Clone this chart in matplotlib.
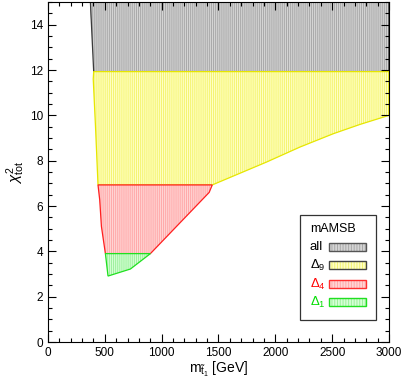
import matplotlib
matplotlib.use("Agg")
import matplotlib.pyplot as plt
from matplotlib.patches import Polygon, Rectangle
from matplotlib.ticker import MultipleLocator

plt.rcParams['font.family'] = ['Liberation Sans', 'DejaVu Sans']
plt.rcParams['mathtext.fontset'] = 'custom'
plt.rcParams['mathtext.rm'] = 'Liberation Sans'
plt.rcParams['mathtext.it'] = 'Liberation Sans:italic'
plt.rcParams['hatch.linewidth'] = 0.7

# region boundaries (m_stop [GeV], chi2_tot)
all_x = [373, 3000, 3000, 402]
all_y = [15.0, 15.0, 11.93, 11.93]

d9_x = [402, 3000, 3000, 2745, 2510, 2216, 1923, 1445, 440, 418, 398]
d9_y = [11.93, 11.93, 10.0, 9.6, 9.19, 8.6, 7.94, 6.93, 6.93, 9.5, 11.6]

d4_x = [440, 1445, 1418, 901, 505, 470, 455]
d4_y = [6.93, 6.93, 6.6, 3.9, 3.9, 5.1, 6.27]

d1_x = [505, 901, 725, 528]
d1_y = [3.9, 3.9, 3.22, 2.91]

labels = ["all", r"$\Delta_9$", r"$\Delta_4$", r"$\Delta_1$"]
xs_list = [all_x, d9_x, d4_x, d1_x]
ys_list = [all_y, d9_y, d4_y, d1_y]
edge_colors = ["#3a3a3a", "#e6e600", "#ff2020", "#20e020"]
face_colors = ["#d4d4d4", "#ffffc4", "#ffd4d4", "#d4ffd4"]
hatch_colors = ["#a8a8a8", "#f4f470", "#ffa8a8", "#9cf09c"]
text_colors = ["black", "black", "#ff0000", "#00dd00"]
legend_edges = ["#555555", "#444444", "#ff3030", "#20e020"]

fig = plt.figure(figsize=(4.05, 3.82), dpi=100)
ax = fig.add_axes([0.1185, 0.1047, 0.842, 0.89])

for xs, ys, ec, fc, hc in zip(xs_list, ys_list, edge_colors, face_colors, hatch_colors):
    ax.add_patch(Polygon(list(zip(xs, ys)), closed=True, facecolor=fc,
                         edgecolor=hc, hatch="||||||||", lw=0))
    ax.add_patch(Polygon(list(zip(xs, ys)), closed=True, facecolor="none",
                         edgecolor=ec, lw=0.9))

ax.set_xlim(0, 3000)
ax.set_ylim(0, 15)
ax.xaxis.set_major_locator(MultipleLocator(500))
ax.xaxis.set_minor_locator(MultipleLocator(100))
ax.yaxis.set_major_locator(MultipleLocator(2))
ax.yaxis.set_minor_locator(MultipleLocator(0.5))
ax.tick_params(which='both', direction='in', top=True, right=True, labelsize=8.5)
ax.tick_params(which='major', length=6, width=0.8)
ax.tick_params(which='minor', length=3, width=0.8)
ax.set_xlabel(r"$\mathrm{m}_{\tilde{\mathrm{t}}_1}$ [GeV]", fontsize=10, labelpad=1)
ax.set_ylabel(r"$\chi^2_{\mathrm{tot}}$", fontsize=11, labelpad=2)

# legend box drawn manually in axes coords
lx0, lx1 = 300, 376
ly0, ly1 = 215, 320
def to_ax(px, py):
    return ((px - 48.3) / (389 - 48.3), (342 - py) / 340.5)
(bx0, by1) = to_ax(lx0, ly0)
(bx1, by0) = to_ax(lx1, ly1)
ax.add_patch(Rectangle((bx0, by0), bx1 - bx0, by1 - by0, transform=ax.transAxes,
                       facecolor="white", edgecolor="#333333", lw=0.9, zorder=5))
tx, _ = to_ax(310, 0)
_, ty = to_ax(0, 229)
ax.text(tx, ty, "mAMSB", transform=ax.transAxes, fontsize=9, va="center", zorder=6)
rows_py = [247, 265, 284, 302]
for name, fc, hc, tc, lec, py in zip(labels, face_colors, hatch_colors, text_colors,
                                      legend_edges, rows_py):
    _, yy = to_ax(0, py)
    ax.text(tx, yy, name, transform=ax.transAxes, fontsize=9.5, va="center",
            color=tc, zorder=6)
    rx0, _ = to_ax(329, 0)
    rx1, _ = to_ax(366, 0)
    _, ry0 = to_ax(0, py + 4)
    _, ry1 = to_ax(0, py - 4)
    ax.add_patch(Rectangle((rx0, ry0), rx1 - rx0, ry1 - ry0, transform=ax.transAxes,
                           facecolor=fc, edgecolor=hc, hatch="||||||", lw=0, zorder=6))
    ax.add_patch(Rectangle((rx0, ry0), rx1 - rx0, ry1 - ry0, transform=ax.transAxes,
                           facecolor="none", edgecolor=lec, lw=1.0, zorder=7))

fig.savefig("out.png", dpi=100)
